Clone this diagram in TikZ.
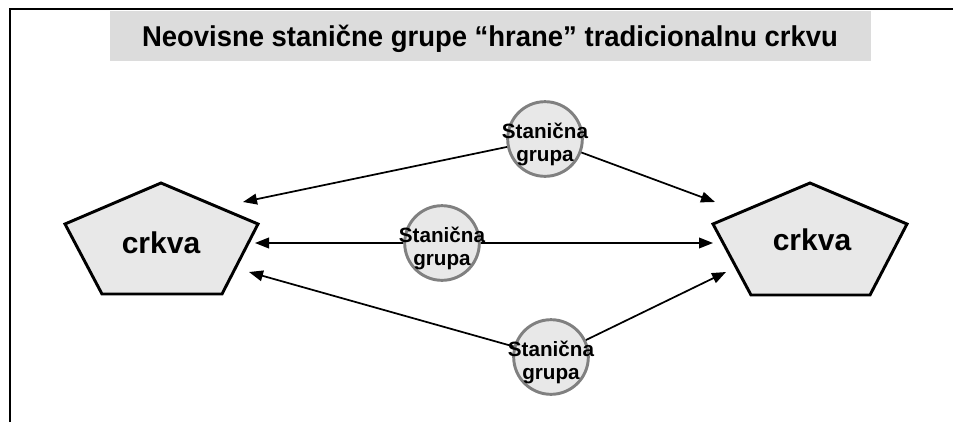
\documentclass[tikz,border=0pt]{standalone}
\usepackage{fontspec}
\setmainfont{Liberation Sans}
\usepackage{graphicx}
\usetikzlibrary{arrows.meta}
\definecolor{shade}{RGB}{232,232,232}
\definecolor{titlegray}{RGB}{220,220,220}
\definecolor{ringgray}{RGB}{128,128,128}
\tikzset{
  grupa/.style={circle,draw=ringgray,fill=shade,line width=2.2pt,minimum size=56pt,inner sep=0pt,align=center,font=\fontsize{15.5}{17}\selectfont\bfseries},
  pent/.style={draw=black,fill=shade,line width=2.2pt,line join=miter},
  crkvatext/.style={anchor=base,inner sep=0pt,font=\fontsize{22.5}{27}\selectfont\bfseries},
  veza/.style={line width=1.3pt,-{Triangle[length=10.5pt,width=8pt]}},
}
\newcommand{\grupatext}{\makebox[0pt]{\rule{0pt}{20pt}Stanična}\\\makebox[0pt]{grupa}}

\begin{document}
\begin{tikzpicture}[x=0.75pt,y=0.75pt,yscale=-1,xscale=1]
\useasboundingbox (0,0) rectangle (953,422);

%Frame
\draw [line width=1.8pt] (10,422) -- (10,9) -- (953,9) ;
%Title box
\fill [titlegray] (110,11) rectangle (871,61) ;
\node (naslov) [anchor=base,inner sep=0pt] at (490,46) {\resizebox{522pt}{\height}{\fontsize{21.5}{24}\selectfont\bfseries Neovisne stanične grupe “hrane” tradicionalnu crkvu}};

%Shape: Pentagon left
\draw [pent] (65,224) -- (161,183) -- (258,224) -- (222,294) -- (102,294) -- cycle ;
\node (crkvaL) [crkvatext] at (161,253) {crkva};
%Shape: Pentagon right
\draw [pent] (713,224) -- (810,183) -- (907,224) -- (870,295) -- (751,295) -- cycle ;
\node (crkvaR) [crkvatext] at (812,250) {crkva};

%Arrow ends at the pentagons
\coordinate (tipLa) at (243,202) ;
\coordinate (tipLb) at (255,243) ;
\coordinate (tipLc) at (249,272) ;
\coordinate (tipRa) at (715,202) ;
\coordinate (tipRb) at (713,243) ;
\coordinate (tipRc) at (726,272) ;

%Circles
\node (grupaA) [grupa] at (545,139) {\grupatext};
\node (grupaB) [grupa] at (442,243) {\grupatext};
\node (grupaC) [grupa] at (551,357) {\grupatext};

%Straight Lines
\draw [veza] (grupaA) -- (tipLa) ;
\draw [veza] (grupaA) -- (tipRa) ;
\draw [veza] (grupaB) -- (tipLb) ;
\draw [veza] (grupaB) -- (tipRb) ;
\draw [veza] (grupaC) -- (tipLc) ;
\draw [veza] (grupaC) -- (tipRc) ;

\end{tikzpicture}
\end{document}
